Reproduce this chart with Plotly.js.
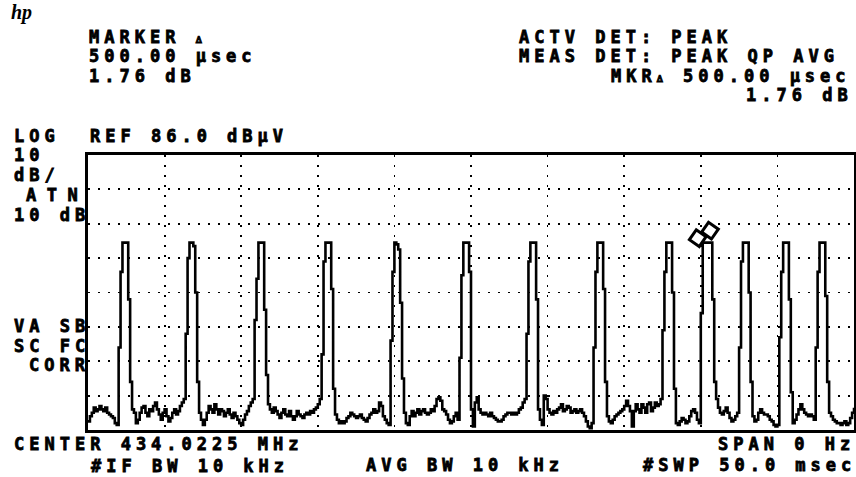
<!DOCTYPE html>
<html><head><meta charset="utf-8">
<script src="https://cdn.plot.ly/plotly-3.0.1.min.js"></script>
<style>html,body{margin:0;padding:0;background:#fff}</style>
</head><body><div id="chart" style="width:856px;height:477px"></div>
<script>
// ---- data ----
const sweepTime_ms = 50;          // #SWP 50.0 msec, span 0 Hz (time domain)
const refLevel_dBuV = 86;         // REF 86.0 dBµV
const dBperDiv = 10;              // 10 dB/
const traceLevel_dBuV = [
  8.5,10,11,12.5,11.5,12,13,12,11.5,12.5,11,10.5,10,9.5,8,7.5,
  30,52,60.5,60.5,60.5,44,20,
  12,11,8,9,11,12.5,13,11,10,12,11.5,13,14,12,10.5,9,11,12,10,8.5,9.5,11,12,10.5,11.5,13,14,15,
  34,56,60.5,60.5,59.5,46,20,
  11,9,7.5,9,11,13,12,11,13.5,12,10.5,12,11.5,10,11,12,10.5,9.5,11,10,9,8,7.5,9,10.5,11.5,13,14,15,
  38,50,60.5,60.5,60.5,41,22,
  13.5,12,11,12.5,11.5,10.5,9.5,11,12,10.5,10,11.5,10,9,10,11.5,10.5,10,9.5,10.5,11,10.5,11.5,11,12,12.5,13.5,15,
  28,55,60.5,60.5,60.5,47,18,
  10.5,9,8,8.5,8,8.5,9.5,10,11,10.5,10,9.5,10,10.5,9.5,9,8.5,9.5,10.5,11,12,11,11.5,14,13,10,9,8,7.5,
  32,52,60.5,60,58.5,43,21,
  11,8,7.5,10,11.5,10,11,12,10.5,11.5,12,11,10.5,11,12,11.5,13,15,15.5,14.5,12,11.5,10.5,9,8,8.5,10,11,9,
  27,51,60.5,60.5,60.5,52,12,
  7,14,15.5,12,11,10.5,11,10.5,10,11,10,9.5,9,8.5,8.5,9,10,10.5,11,11,10.5,11,10.5,11,12,12.5,14,15,
  34,55,60.5,60.5,60.5,44,12,
  9,7.5,16,15,12,11,10.5,11.5,11,12,12.5,13.5,11.5,12,13,12.5,11,11.5,12,11,11.5,12,11,10,8.5,7,6.5,8,
  30,52,60.5,60.5,60.5,47,20,
  10,8.5,8,9,10,10.5,11,11.5,12,13,14.5,13,11.5,7,11.5,13.5,12,11,13.5,12.5,11,13.5,14,11.5,12.5,14,13,13.5,15,
  35,52,60.5,60.5,60.5,46,18,
  8,7.5,8.5,9.5,9,8,8.5,10,11.5,12,11,9,8,
  40,60.5,60.5,60.5,60.5,60.5,44,
  20,15,12.5,11,10.5,11.5,12.5,11,9.5,8.5,9,10,11,
  30,55,60.5,60.5,60.5,46,20,
  10,8.5,9,11,12,11,10.5,10.5,10,9,8.5,7.5,7,7.5,
  33,52,60.5,60.5,60.5,44,17,
  8,9,10.5,12,13.5,12,11,10.5,10,10.5,10,9,
  30,52,60.5,60.5,60.5,45,20,
  11,10,9,8.5,8,8,7.5,8,8.5,7.5,8,9.5,11,12.5
];
const markerTime_ms = [39.8, 40.6];
const markerLevel_dBuV = [61.8, 64.0];

// sweep point grid (401 points over the sweep time)
const time_ms = traceLevel_dBuV.map((_, i) => i * sweepTime_ms / (traceLevel_dBuV.length - 1));

// ---- layout helpers ----
const L = 88, R = 854, T = 155, B = 430;
const W = 856, H = 477;
const MONO = {family: 'DejaVu Sans Mono', size: 17, color: '#000', weight: 'bold'};
const spacing = [];
const annotations = [];
function label(text, px, py, sp, font) {
  annotations.push({
    text: text, xref: 'paper', yref: 'paper',
    x: (px - L) / (R - L), y: (B - py) / (B - T),
    xanchor: 'left', yanchor: 'middle', align: 'left',
    showarrow: false, borderpad: 0, font: font || MONO
  });
  spacing.push(sp === undefined ? 5.0 : sp);
}
const tri = "<span style='font-size:10px'>∆</span>";
label('hp', 10, 12, 0, {family: 'Liberation Serif', size: 20, color: '#000', style: 'italic', weight: 'bold'});
label('MARKER ' + tri, 88, 36.7);
label('500.00 µsec', 88, 55.5);
label('1.76 dB', 88, 75.5);
label('ACTV DET: PEAK', 518, 36.7);
label('MEAS DET: PEAK QP AVG', 518, 55.5);
label('MKR' + tri + ' 500.00 µsec', 610, 75.5);
label('1.76 dB', 745, 94.7);
label('LOG', 12.7, 135.8);
label('REF 86.0 dBµV', 89.3, 135.8);
label('10', 12.7, 155.3);
label('dB/', 12.7, 175.3);
label('ATN', 25, 194.7, 10.5);
label('10 dB', 12.7, 214.7);
label('VA SB', 12.7, 325.8);
label('SC FC', 12.7, 345.8);
label('CORR', 28.3, 365.2);
label('CENTER 434.0225 MHz', 12.7, 443.5);
label('#IF BW 10 kHz', 90, 465.5);
label('AVG BW 10 kHz', 365, 464.5);
label('SPAN 0 Hz', 716.7, 443.5);
label('#SWP 50.0 msec', 641.7, 464.5);

const axisCommon = {
  showgrid: true, gridcolor: '#000', gridwidth: 1.8, griddash: '2px,8px',
  showline: true, mirror: true, linecolor: '#000', linewidth: 2.6,
  showticklabels: false, ticks: '', zeroline: false, fixedrange: true
};

const traces = [
  {x: time_ms, y: traceLevel_dBuV, type: 'scatter', mode: 'lines',
   line: {color: '#000', width: 2.6, shape: 'hv'}, hoverinfo: 'skip'},
  {x: markerTime_ms, y: markerLevel_dBuV, type: 'scatter', mode: 'markers',
   marker: {symbol: 'square', angle: 35, size: 12, color: '#fff', line: {color: '#000', width: 3}},
   cliponaxis: false, hoverinfo: 'skip'}
];

const layout = {
  width: W, height: H,
  margin: {l: L, r: W - R, t: T, b: H - B, pad: 0},
  paper_bgcolor: '#fff', plot_bgcolor: '#fff', showlegend: false,
  xaxis: Object.assign({range: [0, sweepTime_ms], tick0: 0, dtick: 5}, axisCommon),
  yaxis: Object.assign({range: [refLevel_dBuV - 8 * dBperDiv, refLevel_dBuV], tick0: refLevel_dBuV, dtick: dBperDiv}, axisCommon),
  annotations: annotations
};

Plotly.newPlot('chart', traces, layout, {staticPlot: true}).then(gd => {
  gd.querySelectorAll('g.annotation').forEach(g => {
    const k = +g.getAttribute('data-index');
    const t = g.querySelector('text.annotation-text');
    if (t) {
      t.style.letterSpacing = spacing[k] + 'px';
      t.style.fontWeight = 'bold';
      if (k > 0) {
        t.style.stroke = '#000';
        t.style.strokeWidth = '0.8px';
      }
    }
  });
});
</script>
</body></html>
